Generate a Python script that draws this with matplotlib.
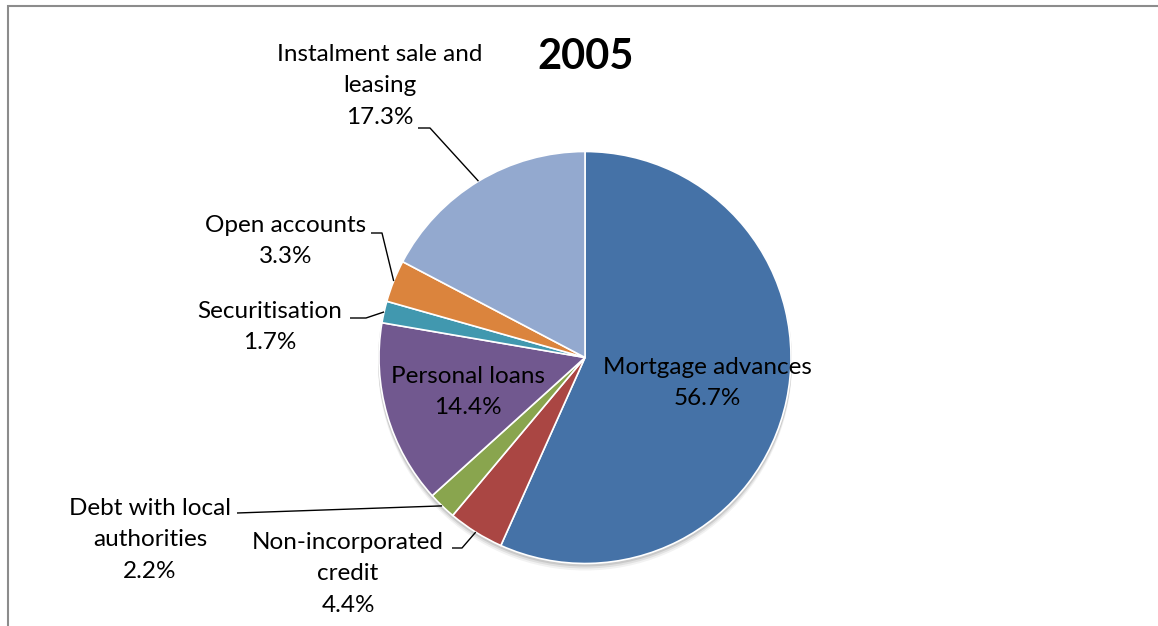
import numpy as np
import matplotlib
matplotlib.use("Agg")
import matplotlib.pyplot as plt
from matplotlib.patches import Circle

plt.rcParams['font.family'] = ['Lato', 'DejaVu Sans']

title = "2005"
categories = ["Mortgage advances", "Non-incorporated\ncredit", "Debt with local\nauthorities",
              "Personal loans", "Securitisation", "Open accounts", "Instalment sale and\nleasing"]
values = [56.7, 4.4, 2.2, 14.4, 1.7, 3.3, 17.3]
colors = ["#4572A7", "#AA4643", "#89A54E", "#71588F", "#4198AF", "#DB843D", "#93A9CF"]

W, H = 1158, 626
fig = plt.figure(figsize=(W / 100, H / 100), dpi=100)
ax = fig.add_axes([0, 0, 1, 1])

def Y(y):
    return H - y

cx, cy, R = 585, Y(357.5), 206

# soft shadow
for k, a in [(6, 0.05), (4, 0.07), (2, 0.1)]:
    ax.add_patch(Circle((cx, cy - k), R + 1, color="black", alpha=a, lw=0, zorder=0))

wedges, _ = ax.pie(values, colors=colors, startangle=90, counterclock=False,
                   center=(cx, cy), radius=R,
                   wedgeprops=dict(edgecolor="white", linewidth=1.2))
for w in wedges:
    w.set_zorder(2)

ax.set_xlim(0, W)
ax.set_ylim(0, H)
ax.set_aspect("equal")
ax.axis("off")

fs = 17.5
layout = {
    0: dict(x=707, y=383, inside=True),
    1: dict(x=348, y=574, elbow=[(452, 548), (462, 548)]),
    2: dict(x=150, y=540, elbow=[(237, 513)]),
    3: dict(x=468, y=392, inside=True),
    4: dict(x=270, y=327, elbow=[(350, 318), (366, 318)]),
    5: dict(x=286, y=241, elbow=[(371, 233), (382, 233)]),
    6: dict(x=380, y=86, elbow=[(418, 128), (430, 128)]),
}

for i, (w, lab, v) in enumerate(zip(wedges, categories, values)):
    L = layout[i]
    txt = f"{lab}\n{v:.1f}%"
    ax.text(L["x"], Y(L["y"]), txt, ha="center", va="center", fontsize=fs,
            linespacing=1.62, multialignment="center", color="black", zorder=5)
    if "elbow" in L:
        mid = np.deg2rad((w.theta1 + w.theta2) / 2)
        ex, ey = cx + R * np.cos(mid), cy + R * np.sin(mid)
        xs = [p[0] for p in L["elbow"]] + [ex]
        ys = [Y(p[1]) for p in L["elbow"]] + [ey]
        ax.plot(xs, ys, color="black", lw=1.0, zorder=4, solid_capstyle="butt")

ax.text(586, Y(57), title, ha="center", va="center", fontsize=30, fontweight="bold")

# outer frame (cropped chart area)
ax.plot([7.5, 7.5, W], [0, Y(5.5), Y(5.5)], color="#8c8c8c", lw=1.5, zorder=6,
        solid_joinstyle="miter")

fig.savefig("out.png", dpi=100)
